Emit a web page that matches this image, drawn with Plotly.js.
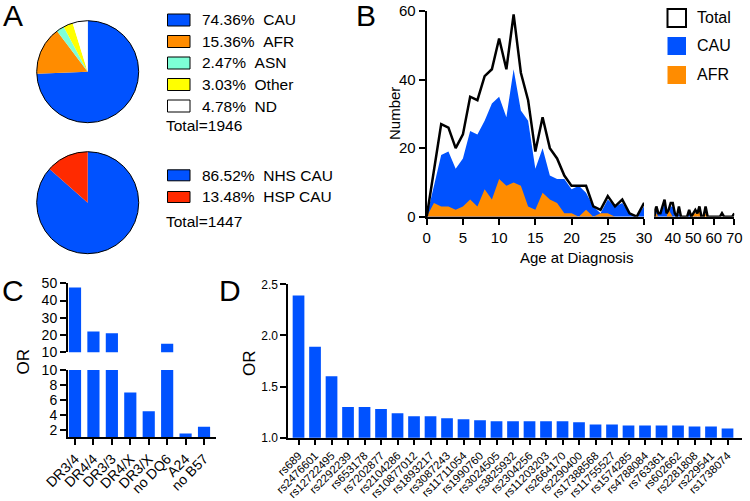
<!DOCTYPE html>
<html>
<head>
<meta charset="utf-8">
<script src="https://cdn.plot.ly/plotly-3.0.1.min.js"></script>
<style>
  html, body { margin: 0; padding: 0; background: #fff; }
  #chart { width: 750px; height: 501px; }
</style>
</head>
<body>
<div id="chart"></div>
<script>
// panel A - ancestry pies
var ancLabels = ['CAU', 'AFR', 'ASN', 'Other', 'ND'];
var ancPct = [74.36, 15.36, 2.47, 3.03, 4.78];
var ancColors = ['#0052ff', '#ff8c00', '#7dffd6', '#ffff00', '#ffffff'];
var ancTotal = 1946;

var cohortLabels = ['NHS CAU', 'HSP CAU'];
var cohortPct = [86.52, 13.48];
var cohortColors = ['#0052ff', '#ff2a00'];
var cohortTotal = 1447;

// panel B - age at diagnosis
var ages = [0, 1, 2, 3, 4, 5, 6, 7, 8, 9, 10, 11, 12, 13, 14, 15, 16, 17, 18, 19, 20,
  21, 22, 23, 24, 25, 26, 27, 28, 29, 30, 31, 32, 33, 34, 35, 36, 37, 38, 39, 40,
  41, 42, 43, 44, 45, 46, 47, 48, 49, 50, 51, 52, 53, 54, 55, 56, 57, 58, 59, 60,
  61, 62, 63, 64, 65, 66, 67, 68, 69, 70];
var totalN = [0, 14, 27, 26, 20, 24, 35, 34, 41, 43, 52, 43, 59, 42, 34, 19, 29, 20, 17, 12, 9,
  9, 9, 3, 2, 6, 3, 5, 1, 0, 4, 0, 3, 1, 1, 3, 5, 1, 2, 4, 4,
  1, 0, 3, 0, 0, 0, 0, 2, 0, 1, 2, 1, 3, 0, 0, 3, 0, 0, 0, 0,
  0, 0, 0, 1, 0, 0, 0, 0, 0, 1];
var cauN = [0, 9, 18, 19, 14, 17, 25, 24, 28, 33, 35, 29, 43, 31, 28, 14, 20, 12, 11, 11, 8,
  9, 7, 3, 1, 5, 3, 4, 1, 0, 3, 0, 2, 1, 1, 2, 4, 1, 1, 3, 3,
  1, 0, 1, 0, 0, 0, 0, 1, 0, 0, 1, 0, 1, 0, 0, 0, 0, 0, 0, 0,
  0, 0, 0, 0, 0, 0, 0, 0, 0, 0];
var afrN = [0, 4, 3, 3, 2, 3, 5, 3, 8, 5, 11, 9, 10, 9, 3, 2, 7, 5, 4, 1, 1,
  0, 2, 0, 1, 1, 0, 0, 0, 0, 0, 0, 1, 0, 0, 0, 0, 0, 2, 1, 0,
  0, 0, 0, 0, 0, 0, 0, 0, 0, 1, 1, 1, 2, 0, 0, 1, 0, 0, 0, 0,
  0, 0, 0, 0, 0, 0, 0, 0, 0, 0];
var bSeries = ['Total', 'CAU', 'AFR'];

// panel C - HLA odds ratios
var hlaLabels = ['DR3/4', 'DR4/4', 'DR3/3', 'DR4/X', 'DR3/X', 'no DQ6', 'A24', 'no B57'];
var hlaOR = [47.5, 22, 21, 7, 4.5, 15, 1.5, 2.4];

// panel D - SNP odds ratios
var snpLabels = ['rs689', 'rs2476601', 'rs12722495', 'rs2292239', 'rs653178', 'rs7202877',
  'rs2104286', 'rs10877012', 'rs1893217', 'rs3087243', 'rs11711054', 'rs1990760',
  'rs3024505', 'rs3825932', 'rs2304256', 'rs11203203', 'rs2664170', 'rs2290400',
  'rs17388568', 'rs11755527', 'rs1574285', 'rs4788084', 'rs763361', 'rs602662',
  'rs2281808', 'rs229541', 'rs1738074'];
var snpOR = [2.39, 1.89, 1.60, 1.30, 1.30, 1.28, 1.24, 1.21, 1.21, 1.19, 1.18, 1.17,
  1.16, 1.16, 1.16, 1.16, 1.16, 1.15, 1.13, 1.13, 1.12, 1.12, 1.12, 1.12,
  1.11, 1.11, 1.09];

var W = 750, H = 501;
function px(x) { return x / W; }
function py(y) { return 1 - y / H; }

var FONT = 'Liberation Sans, Arial, sans-serif';
var blue = '#0052ff', orange = '#ff8c00';

var data = [];

// pies
function addPie(vals, labels, colors, cy) {
  data.push({
    type: 'pie', values: vals, labels: labels, sort: false, direction: 'clockwise',
    marker: { colors: colors }, textinfo: 'none',
    domain: { x: [px(36.7), px(138.7)], y: [py(cy + 51), py(cy - 51)] }
  });
  data.push({
    type: 'pie', values: [1], labels: ['all'], sort: false, textinfo: 'none', hoverinfo: 'skip',
    marker: { colors: ['rgba(0,0,0,0)'], line: { color: '#000', width: 1 } },
    domain: { x: [px(36.7), px(138.7)], y: [py(cy + 51), py(cy - 51)] }
  });
}
addPie(ancPct, ancLabels, ancColors, 71.7);
addPie(cohortPct, cohortLabels, cohortColors, 202.7);

// age histogram, drawn on both halves of the broken axis
['x', 'x2'].forEach(function (xa) {
  data.push({ x: ages, y: totalN, xaxis: xa, yaxis: 'y', type: 'scatter', mode: 'lines',
    fill: 'tozeroy', fillcolor: '#fff', line: { width: 0 }, name: 'Total' });
  data.push({ x: ages, y: cauN, xaxis: xa, yaxis: 'y', type: 'scatter', mode: 'lines',
    fill: 'tozeroy', fillcolor: blue, line: { width: 0 }, name: 'CAU' });
  data.push({ x: ages, y: afrN, xaxis: xa, yaxis: 'y', type: 'scatter', mode: 'lines',
    fill: 'tozeroy', fillcolor: orange, line: { width: 0 }, name: 'AFR' });
  data.push({ x: ages, y: totalN, xaxis: xa, yaxis: 'y', type: 'scatter', mode: 'lines',
    line: { color: '#000', width: 2.5 }, name: 'Total' });
});

// HLA bars, lower and upper part of the broken axis
data.push({ type: 'bar', x: hlaLabels, y: hlaOR, xaxis: 'x3', yaxis: 'y2',
  marker: { color: blue }, width: 0.66 });
data.push({ type: 'bar', x: hlaLabels, y: hlaOR, xaxis: 'x3', yaxis: 'y3',
  marker: { color: blue }, width: 0.66 });

// SNP bars
data.push({ type: 'bar', x: snpLabels, y: snpOR, xaxis: 'x4', yaxis: 'y4',
  marker: { color: blue }, width: 0.71 });

function ax(extra) {
  var a = {
    showline: true, linecolor: '#000', linewidth: 2, ticks: 'outside', ticklen: 6,
    tickwidth: 2, tickcolor: '#000', showgrid: false, zeroline: false,
    tickfont: { family: FONT, size: 15, color: '#000' }, fixedrange: true
  };
  for (var k in extra) a[k] = extra[k];
  return a;
}

var shapes = [];
var annotations = [];

function txt(t, x, y, size, opts) {
  var a = { text: t, x: px(x), y: py(y), xref: 'paper', yref: 'paper', showarrow: false,
    font: { family: FONT, size: size, color: '#000' }, xanchor: 'center', yanchor: 'middle' };
  for (var k in (opts || {})) a[k] = opts[k];
  annotations.push(a);
}
function box(x0, x1, y0, y1, fill, lw) {
  shapes.push({ type: 'rect', xref: 'paper', yref: 'paper', x0: px(x0), x1: px(x1),
    y0: py(y1), y1: py(y0), fillcolor: fill, line: { color: '#000', width: lw } });
}

// panel letters
txt('A', 12.5, 16, 30);
txt('B', 366, 16, 30);
txt('C', 13, 290, 30);
txt('D', 229.5, 290, 30);

// panel A legends
var rowA = [20, 41.5, 63, 84.5, 106];
ancLabels.forEach(function (l, i) {
  box(167.5, 190, rowA[i] - 6, rowA[i] + 6, ancColors[i], 1);
  txt(ancPct[i].toFixed(2) + '%\u00a0\u00a0' + l, 200, rowA[i], 15.5, { xanchor: 'left' });
});
txt('Total=' + ancTotal, 164, 126, 15.5, { xanchor: 'left' });

var rowA2 = [175.3, 197];
cohortLabels.forEach(function (l, i) {
  box(167.5, 190, rowA2[i] - 5.5, rowA2[i] + 5.5, cohortColors[i], 1);
  txt(cohortPct[i].toFixed(2) + '%\u00a0\u00a0' + l, 200, rowA2[i], 15.5, { xanchor: 'left' });
});
txt('Total=' + cohortTotal, 164, 221, 15.5, { xanchor: 'left' });

// panel B legend
var rowB = [18, 46, 75];
var bFill = ['#fff', blue, orange];
bSeries.forEach(function (l, i) {
  box(667.5, 686, rowB[i] - 9, rowB[i] + 9, bFill[i], i === 0 ? 2 : 0);
  txt(l, 695, rowB[i], 16, { xanchor: 'left' });
});

// axis titles
txt('Number', 395, 113, 15, { textangle: -90 });
txt('Age at Diagnosis', 576, 257, 15);
txt('OR', 22.5, 362, 17, { textangle: -90 });
txt('OR', 249, 363, 17, { textangle: -90 });

var layout = {
  width: W, height: H,
  margin: { l: 0, r: 0, t: 0, b: 0, pad: 0 },
  paper_bgcolor: '#fff', plot_bgcolor: 'rgba(0,0,0,0)',
  showlegend: false, barmode: 'overlay',
  font: { family: FONT, color: '#000' },
  xaxis: ax({ domain: [px(426.7), px(644)], range: [0, 30], tickvals: [0, 5, 10, 15, 20, 25, 30], anchor: 'y' }),
  xaxis2: ax({ domain: [px(654.3), px(734.3)], range: [31, 70], tickvals: [40, 50, 60, 70], anchor: 'y' }),
  yaxis: ax({ domain: [py(216.7), py(11)], range: [0, 60], tickvals: [0, 20, 40, 60], anchor: 'x' }),
  xaxis3: ax({ domain: [px(68), px(216)], range: [-0.38, 7.65], anchor: 'y2', type: 'category',
    tickangle: -45, tickfont: { family: FONT, size: 14, color: '#000' } }),
  yaxis2: ax({ domain: [py(437.3), py(370)], range: [1, 10], tickvals: [2, 4, 6, 8, 10], anchor: 'x3',
    tickfont: { family: FONT, size: 14, color: '#000' } }),
  yaxis3: ax({ domain: [py(352.3), py(283.3)], range: [10, 50], tickvals: [10, 20, 30, 40, 50], anchor: 'x3',
    tickfont: { family: FONT, size: 14, color: '#000' } }),
  xaxis4: ax({ domain: [px(288.3), px(741.7)], range: [-0.62, 26.86], anchor: 'y4', type: 'category',
    tickangle: -45, ticklen: 5, tickfont: { family: FONT, size: 11.3, color: '#000' } }),
  yaxis4: ax({ domain: [py(437.7), py(284.3)], range: [1, 2.5], tickvals: [1, 1.5, 2, 2.5],
    ticktext: ['1.0', '1.5', '2.0', '2.5'], anchor: 'x4',
    tickfont: { family: FONT, size: 12, color: '#000' } }),
  shapes: shapes,
  annotations: annotations
};

Plotly.newPlot('chart', data, layout, { staticPlot: true, displayModeBar: false });
</script>
</body>
</html>
